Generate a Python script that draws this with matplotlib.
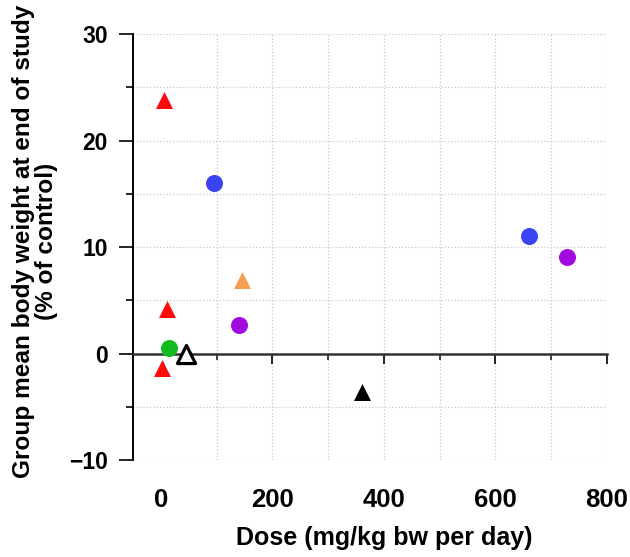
import matplotlib
matplotlib.use("Agg")
from matplotlib import pyplot as plt

plt.rcParams['font.family'] = ['Liberation Sans', 'DejaVu Sans']
plt.rcParams['font.weight'] = 'bold'

# Dose (mg/kg bw per day) and group mean body weight (% of control), per marker group
red_dose = [5, 11, 3]
red_bw = [23.8, 4.15, -1.4]
green_dose = [15]
green_bw = [0.5]
open_dose = [46]
open_bw = [0.0]
blue_dose = [96, 661]
blue_bw = [16.0, 11.0]
orange_dose = [145]
orange_bw = [6.9]
purple_dose = [141, 729]
purple_bw = [2.7, 9.1]
black_dose = [360]
black_bw = [-3.6]

x_labels = [0, 200, 400, 600, 800]
y_ticks = [-10, 0, 10, 20, 30]

fig = plt.figure(figsize=(6.3, 5.57), dpi=100)
ax = fig.add_axes([0.211, 0.174, 0.7525, 0.765])

ax.set_xlim(-50, 800)
ax.set_ylim(-10, 30)

# grid first, markers on top
ax.set_xticks([200, 400, 600, 800])
ax.set_xticks([100, 300, 500, 700], minor=True)
ax.set_yticks(y_ticks)
ax.set_yticks([-5, 5, 15, 25], minor=True)
ax.grid(True, which='both', color='#c8c8c8', linestyle=':', linewidth=0.9)
ax.set_axisbelow(True)

ax.spines['top'].set_visible(False)
ax.spines['right'].set_visible(False)
ax.spines['left'].set_linewidth(1.4)
ax.spines['bottom'].set_position(('data', 0))
ax.spines['bottom'].set_linewidth(1.8)
ax.spines['bottom'].set_color('#333333')

ax.tick_params(axis='x', which='major', direction='out', length=7, width=1.4,
               color='#222222', labelbottom=False)
ax.tick_params(axis='x', which='minor', direction='out', length=4, width=1.2,
               color='#222222')
ax.tick_params(axis='y', which='major', direction='out', length=10, width=1.2,
               labelsize=16.5, pad=8)
ax.tick_params(axis='y', which='minor', direction='out', length=5, width=1.2)

# tick labels for dose sit under the plot, not at the zero line
sec = ax.secondary_xaxis(0)
sec.set_xticks(x_labels)
sec.tick_params(length=0, pad=20, labelsize=18.5)
sec.spines['bottom'].set_visible(False)

ms = 150
kw = dict(s=ms, zorder=5, clip_on=False, linewidths=0)
ax.scatter(red_dose, red_bw, marker='^', color='#ff0a0a', **kw)
ax.scatter(green_dose, green_bw, marker='o', color='#12bb1e', **kw)
ax.scatter(blue_dose, blue_bw, marker='o', color='#3b44f2', **kw)
ax.scatter(orange_dose, orange_bw, marker='^', color='#f7a052', **kw)
ax.scatter(purple_dose, purple_bw, marker='o', color='#a20ae0', **kw)
ax.scatter(black_dose, black_bw, marker='^', color='black', **kw)
ax.scatter(open_dose, open_bw, marker='^', s=170, facecolor='white',
           edgecolor='black', linewidths=2.3, zorder=6, clip_on=False)

ax.set_xlabel('Dose (mg/kg bw per day)', fontsize=18, fontweight='bold')
ax.xaxis.set_label_coords(0.53, -0.155)
ax.set_ylabel('Group mean body weight at end of study\n(% of control)',
              fontsize=17.6, fontweight='bold', linespacing=1.0)
ax.yaxis.set_label_coords(-0.158, 0.514)

plt.savefig('out.png', dpi=100)
